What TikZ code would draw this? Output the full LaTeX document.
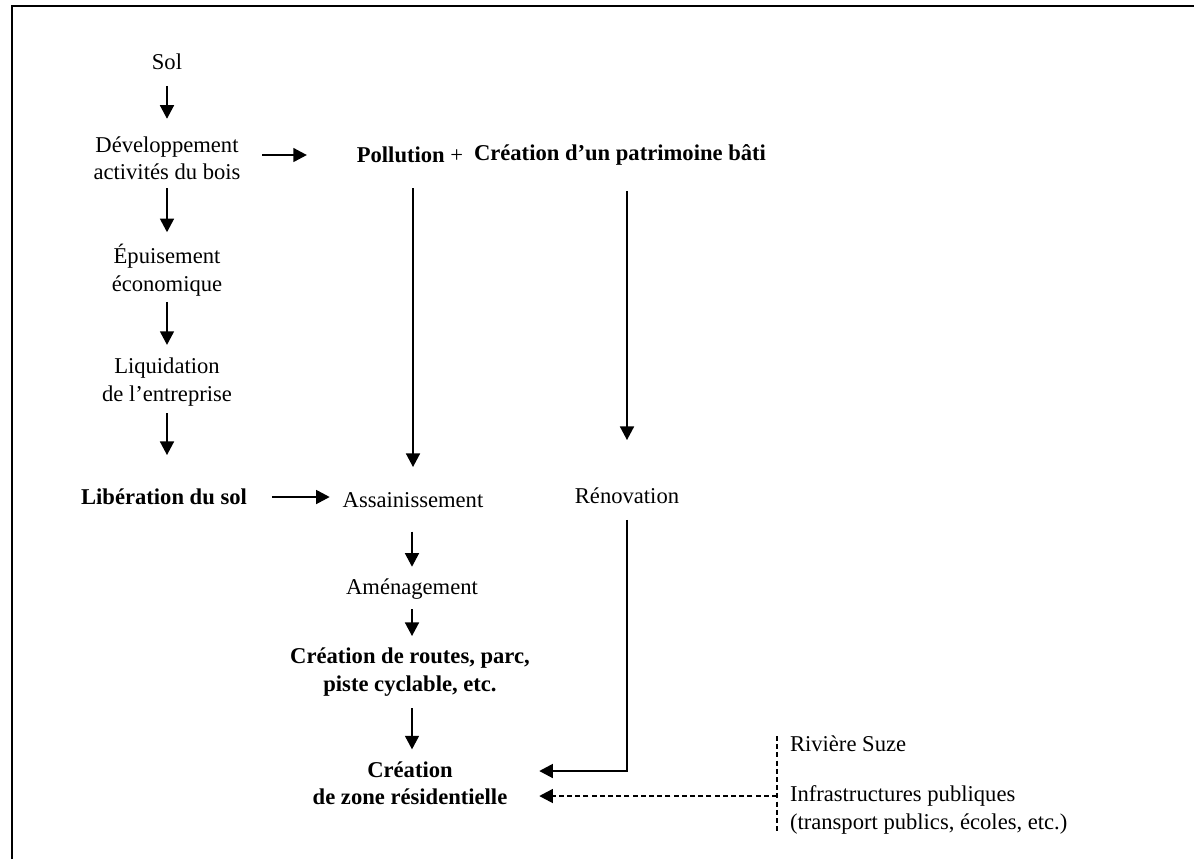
\documentclass[tikz,border=0pt]{standalone}
\usepackage{fontspec}
\setmainfont{Liberation Serif}
\usetikzlibrary{arrows.meta}
\begin{document}
\begin{tikzpicture}[x=0.5pt,y=-0.5pt,
  every node/.style={font=\fontsize{11.3}{13.7}\selectfont, inner sep=0pt, outer sep=0pt, align=center},
  strong/.style={font=\fontsize{11.3}{13.7}\selectfont\bfseries},
  arr/.style={line width=0.85pt, -{Triangle[length=6.8pt,width=7pt]}},
  dsh/.style={line width=0.75pt, dash pattern=on 2.5pt off 1.6pt}
]
\useasboundingbox (0,0) rectangle (1194,859);
% frame
\draw[line width=1pt] (12,859) -- (12,6) -- (1194,6);

% left column
\node (sol) at (167,62) {Sol};
\node (dev) at (167,158) {Développement\\activités du bois};
\node (epu) at (167,270) {Épuisement\\économique};
\node (liq) at (167,382) {Liquidation\\de l’entreprise};
\node[strong] (lib) at (164,497) {Libération du sol};

% top row
\node (poll) at (410,155) {\textbf{Pollution} +};
\node[strong] (patr) at (620,155) {Création d’un patrimoine bâti};

% middle column
\node (ass) at (413,500) {Assainissement};
\node (ren) at (627,496) {Rénovation};
\node (ame) at (412,589) {Aménagement};
\node[strong] (routes) at (410,672) {Création de routes, parc,\\piste cyclable, etc.};
\node[strong] (zone) at (410,783) {Création\\de zone résidentielle};

% right side
\node[anchor=west] (riv) at (790,744) {Rivière Suze};
\node[anchor=west, align=left] (infra) at (790,810) {Infrastructures publiques\\(transport publics, écoles, etc.)};

% left column arrows
\draw[arr, shorten <=8pt, shorten >=8.8pt] (sol.south) -- (sol.south |- dev.north);
\draw[arr, shorten <=4.3pt, shorten >=6pt] (dev.south) -- (dev.south |- epu.north);
\draw[arr, shorten <=3pt, shorten >=6.6pt] (epu.south) -- (epu.south |- liq.north);
\draw[arr, shorten <=3.6pt, shorten >=17pt] (liq.south) -- (liq.south |- lib.north);

% horizontal arrows
\draw[arr, shorten <=11pt, shorten >=25pt] (dev.east |- poll) -- (poll.west);
\draw[arr, shorten <=12.5pt, shorten >=6.5pt] (lib.east) -- (lib.east -| ass.west);

% long vertical arrows
\draw[arr, shorten <=12.7pt, shorten >=12.7pt] (ass |- poll.south) -- (ass.north);
\draw[arr, shorten <=12.7pt, shorten >=24pt] (ren |- patr.south) -- (ren.north);

% middle column arrows
\draw[arr, shorten <=12pt, shorten >=6pt] (ass.south -| ame) -- (ame.north);
\draw[arr, shorten <=5pt, shorten >=6pt] (ame.south) -- (ame.south |- routes.north);
\draw[arr, shorten <=6pt, shorten >=6pt] (ame.south |- routes.south) -- (ame.south |- zone.north);

% renovation elbow
\draw[arr, shorten <=8pt, shorten >=16pt] (ren.south) |- ([yshift=6pt]zone.east);

% dashed bracket and arrow
\coordinate (junction) at ([shift={(-13,-14)}]infra.west);
\draw[dsh] ([xshift=-6.5pt]riv.north west) -- ([xshift=-6.5pt]infra.south west);
\draw[arr, dsh, shorten >=16pt] (junction) -- (junction -| zone.east);
\end{tikzpicture}
\end{document}
